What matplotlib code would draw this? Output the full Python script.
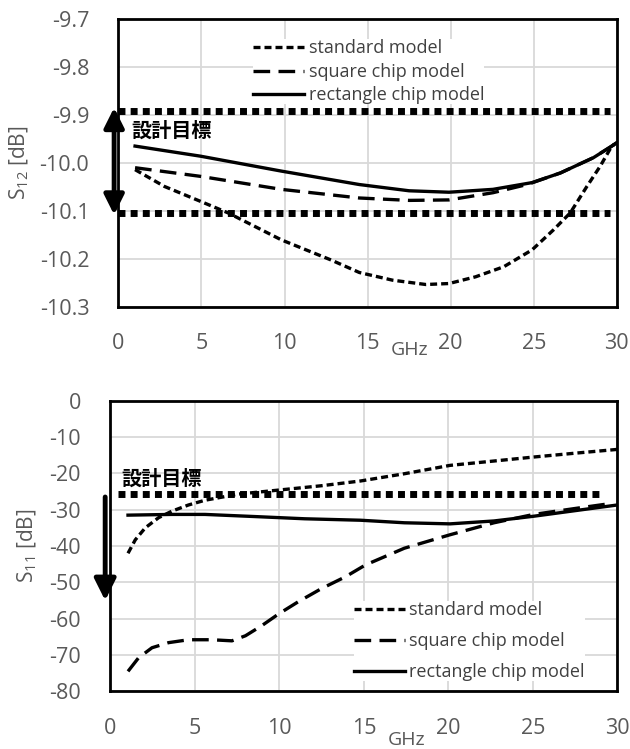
import numpy as np
import matplotlib
matplotlib.use('Agg')
import matplotlib.pyplot as plt
from matplotlib.transforms import blended_transform_factory

plt.rcParams['font.family'] = ['Open Sans', 'Noto Sans CJK JP', 'DejaVu Sans']
plt.rcParams['mathtext.fontset'] = 'custom'
plt.rcParams['mathtext.rm'] = 'Open Sans'
plt.rcParams['axes.unicode_minus'] = False

# S12 data (GHz, dB)
f12_std = [1, 2.77, 4.94, 6.6, 9.8, 12.8, 14.5, 16.5, 18.5, 19.9, 21.5, 23.2, 24.9, 26.2, 27.2, 28.2, 29.0, 29.7, 30]
s12_standard = [-10.014, -10.049, -10.080, -10.104, -10.160, -10.202, -10.228, -10.244, -10.253, -10.251,
                -10.237, -10.216, -10.181, -10.139, -10.104, -10.049, -10.007, -9.965, -9.958]
f12_sq = [1, 4.94, 9.8, 14.5, 17.5, 19.9, 22.55, 24.6, 26.6, 28.6, 29.7, 30]
s12_square = [-10.010, -10.028, -10.055, -10.073, -10.078, -10.077, -10.062, -10.045, -10.021, -9.989, -9.965, -9.958]
f12_rect = [1, 4.94, 9.8, 14.5, 17.5, 19.9, 22.55, 24.9, 26.6, 28.6, 29.7, 30]
s12_rect = [-9.965, -9.986, -10.017, -10.045, -10.058, -10.061, -10.055, -10.041, -10.021, -9.989, -9.965, -9.958]
s12_target = [-9.893, -10.104]

# S11 data (GHz, dB)
f11_std = [1.05, 1.48, 2.07, 2.86, 3.65, 4.63, 5.6, 7.6, 9.96, 12.5, 14.8, 17.4, 20.1, 22.7, 25.05, 27.6, 30]
s11_standard = [-42.0, -38.3, -35.0, -32.2, -30.4, -28.7, -27.4, -25.7, -24.6, -23.4, -22.1, -20.1, -17.8,
                -16.6, -15.5, -14.4, -13.4]
f11_sq = [1.05, 1.67, 2.47, 3.45, 4.63, 6.0, 7.2, 8.0, 8.97, 9.96, 11.1, 12.5, 13.9, 15.1, 17.4, 20.1,
          22.7, 25.05, 27.6, 29.6]
s11_square = [-74.5, -70.8, -68.0, -66.6, -65.8, -65.8, -66.1, -64.7, -61.9, -58.7, -55.4, -51.7, -48.5,
              -45.2, -40.6, -36.9, -33.6, -31.3, -29.6, -28.3]
f11_rect = [1.05, 3.65, 5.6, 8.6, 11.5, 14.8, 17.4, 20.1, 22.7, 25.05, 27.6, 30]
s11_rect = [-31.5, -31.3, -31.3, -31.9, -32.5, -32.9, -33.6, -33.9, -33.1, -31.8, -30.2, -28.7]
s11_target = -25.8

labels = ['standard model', 'square chip model', 'rectangle chip model']
gray = '#595959'
grid_c = '#d9d9d9'
dot_std = (0, (2.1, 1.2))
dash_sq = (0, (5, 2.5))
target_ls = (0, (1, 0.75))

fig = plt.figure(figsize=(6.3, 7.49), dpi=100)
ax1 = fig.add_axes([0.188, 0.590, 0.791, 0.385])
ax2 = fig.add_axes([0.175, 0.077, 0.805, 0.388])


def style(ax, ghz_y):
    ax.grid(True, color=grid_c, lw=1.3)
    ax.set_axisbelow(True)
    for s in ax.spines.values():
        s.set_linewidth(2)
        s.set_color('black')
    ax.tick_params(length=0, labelsize=15.5, labelcolor=gray)
    ax.tick_params(axis='y', pad=21)
    ax.tick_params(axis='x', pad=19)
    ax.set_xlim(0, 30)
    ax.set_xticks(np.arange(0, 31, 5))
    t = blended_transform_factory(ax.transData, ax.transAxes)
    ax.text(17.5, ghz_y, 'GHz', transform=t, ha='center', va='center', fontsize=14, color=gray)


def legend(ax, anchor, loc, spacing):
    leg = ax.legend(loc=loc, bbox_to_anchor=anchor, frameon=True, fontsize=13,
                    handlelength=2.8, handletextpad=0.25, labelspacing=spacing, borderpad=0, borderaxespad=0)
    leg.get_frame().set_edgecolor('none')
    leg.get_frame().set_facecolor('white')
    leg.get_frame().set_alpha(1)
    for t in leg.get_texts():
        t.set_color('#404040')


# ---- S12 ----
style(ax1, -0.15)
ax1.set_ylim(-10.3, -9.7)
ticks12 = np.arange(-10.3, -9.69, 0.1)
ax1.set_yticks(ticks12)
ax1.set_yticklabels(['%.1f' % v for v in ticks12])
ax1.plot(f12_std, s12_standard, color='black', lw=2.4, ls=dot_std, label=labels[0])
ax1.plot(f12_sq, s12_square, color='black', lw=2.4, ls=dash_sq, label=labels[1])
ax1.plot(f12_rect, s12_rect, color='black', lw=2.4, label=labels[2])
for yv in s12_target:
    ax1.plot([0, 29.6], [yv, yv], color='black', lw=5, ls=target_ls, dash_capstyle='butt')
ax1.annotate('', xy=(-0.26, s12_target[0] + 0.008), xytext=(-0.26, s12_target[1] - 0.004), annotation_clip=False,
             arrowprops=dict(arrowstyle='<|-|>,head_length=1.2,head_width=0.6', lw=3.5, color='black',
                             shrinkA=0, shrinkB=0))
ax1.text(0.8, -9.932, '設計目標', fontsize=14.5, fontweight='bold', family=['Noto Sans CJK JP'],
         ha='left', va='center')
ax1.set_ylabel('S$_{\\mathregular{12}}$ [dB]', fontsize=15, color=gray)
ax1.yaxis.set_label_coords(-0.176, 0.5)
legend(ax1, (0.271, 0.928), 'upper left', 0.3)

# ---- S11 ----
style(ax2, -0.168)
ax2.set_ylim(-80, 0)
ax2.set_yticks(np.arange(-80, 1, 10))
ax2.plot(f11_std, s11_standard, color='black', lw=2.4, ls=dot_std, label=labels[0])
ax2.plot(f11_sq, s11_square, color='black', lw=2.4, ls=dash_sq, label=labels[1])
ax2.plot(f11_rect, s11_rect, color='black', lw=2.4, label=labels[2])
ax2.plot([0.45, 29.2], [s11_target, s11_target], color='black', lw=5, ls=target_ls, dash_capstyle='butt')
ax2.annotate('', xy=(-0.3, -55), xytext=(-0.3, -26.5), annotation_clip=False,
             arrowprops=dict(arrowstyle='-|>,head_length=1.3,head_width=0.65', lw=3.5, color='black',
                             shrinkA=0, shrinkB=0))
ax2.text(0.65, -21.3, '設計目標', fontsize=14.5, fontweight='bold', family=['Noto Sans CJK JP'],
         ha='left', va='center')
ax2.set_ylabel('S$_{\\mathregular{11}}$ [dB]', fontsize=15, color=gray)
ax2.yaxis.set_label_coords(-0.14, 0.5)
legend(ax2, (0.481, 0.035), 'lower left', 0.72)

fig.savefig('out.png', dpi=100)
